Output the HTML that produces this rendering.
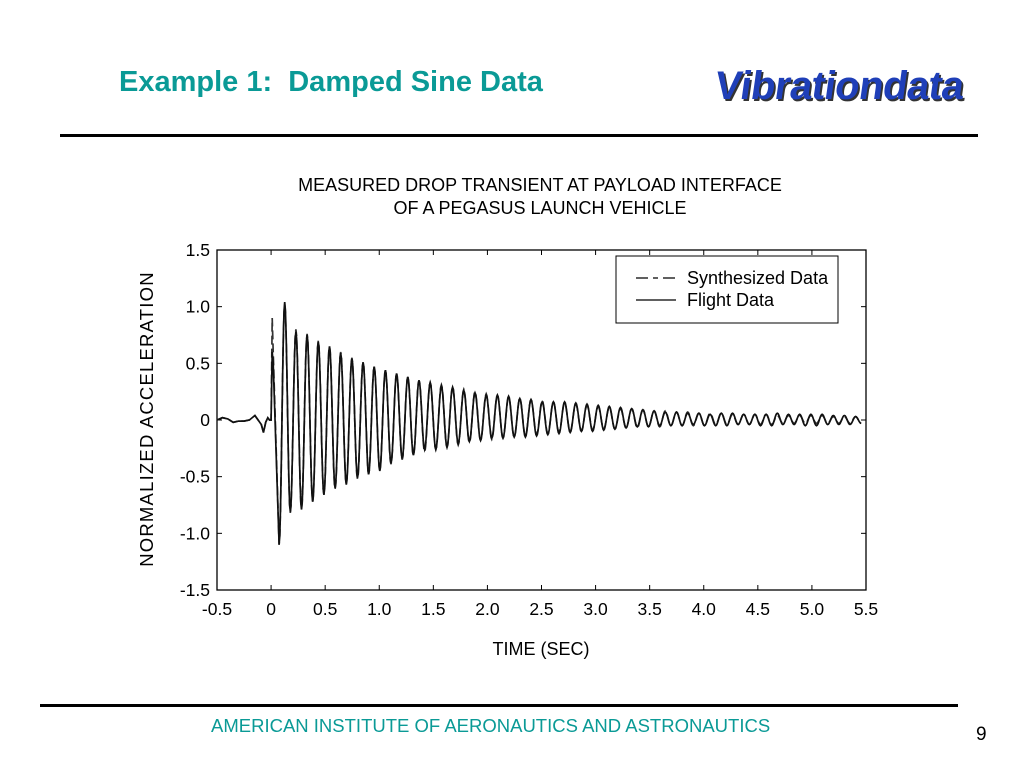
<!DOCTYPE html>
<html><head><meta charset="utf-8"><style>
body{margin:0;width:1024px;height:768px;background:#fff;position:relative;overflow:hidden;font-family:"Liberation Sans",sans-serif}
.a{position:absolute;white-space:nowrap}
</style></head><body>
<div class="a" style="left:119px;top:66px;font-size:29px;font-weight:bold;color:#0a9a96">Example 1:&nbsp; Damped Sine Data</div>
<div class="a" style="left:712px;top:64px;font-size:40px;font-weight:bold;color:#1f3fb8;text-shadow:2px 2px 0 #333;transform:skewX(-8deg);transform-origin:left bottom;letter-spacing:-0.5px">Vibrationdata</div>
<div class="a" style="left:60px;top:134px;width:918px;height:3px;background:#000"></div>
<div class="a" style="left:40px;top:704px;width:918px;height:3px;background:#000"></div>
<div class="a" style="left:211px;top:715px;font-size:18.5px;color:#0a9a96">AMERICAN INSTITUTE OF AERONAUTICS AND ASTRONAUTICS</div>
<div class="a" style="left:976px;top:724px;font-size:19px">9</div>
<svg id="c" class="a" style="left:0;top:0" width="1024" height="768"></svg>
<script>
const xTicks=[-0.5,0,0.5,1.0,1.5,2.0,2.5,3.0,3.5,4.0,4.5,5.0,5.5];
const xTickLabels=["-0.5","0","0.5","1.0","1.5","2.0","2.5","3.0","3.5","4.0","4.5","5.0","5.5"];
const yTicks=[-1.5,-1.0,-0.5,0,0.5,1.0,1.5];
const yTickLabels=["-1.5","-1.0","-0.5","0","0.5","1.0","1.5"];
const preTimes=[-0.5,-0.45,-0.4,-0.35,-0.3,-0.25,-0.2,-0.15,-0.12,-0.09,-0.07,-0.05,-0.03,-0.015,0,0.01,0.02];
const preFlight=[0.0,0.02,0.01,-0.02,-0.01,-0.01,0.0,0.04,0.0,-0.04,-0.11,-0.02,0.02,0.0,0.0,0.6,0.5];
const preSynth=[0.0,0.02,0.01,-0.02,-0.01,-0.01,0.0,0.04,0.0,-0.04,-0.11,-0.02,0.02,0.0,0.0,0.9,0.6];
const firstTrough=-1.10;
const firstTroughTime=0.074;
const period=0.1035;
const flightPeaks=[1.04,0.78,0.75,0.69,0.65,0.59,0.54,0.51,0.47,0.44,0.41,0.38,0.35,0.33,0.30,0.29,0.26,0.24,0.22,0.22,0.21,0.19,0.18,0.16,0.16,0.16,0.15,0.14,0.13,0.12,0.11,0.10,0.09,0.08,0.07,0.07,0.06,0.06,0.05,0.06,0.06,0.05,0.05,0.05,0.06,0.05,0.05,0.05,0.05,0.04,0.04,0.03];
const flightTroughs=[-0.81,-0.79,-0.72,-0.66,-0.60,-0.57,-0.51,-0.48,-0.45,-0.38,-0.34,-0.31,-0.26,-0.26,-0.24,-0.21,-0.19,-0.18,-0.16,-0.16,-0.15,-0.15,-0.14,-0.13,-0.12,-0.11,-0.10,-0.10,-0.09,-0.08,-0.07,-0.06,-0.06,-0.05,-0.05,-0.05,-0.04,-0.05,-0.05,-0.05,-0.04,-0.04,-0.05,-0.05,-0.04,-0.04,-0.05,-0.05,-0.04,-0.04,-0.04,-0.03];
const synthPeaks=[1.02,0.80,0.76,0.70,0.65,0.60,0.55,0.51,0.47,0.44,0.41,0.38,0.35,0.33,0.31,0.29,0.27,0.25,0.23,0.22,0.20,0.19,0.18,0.17,0.16,0.15,0.14,0.13,0.12,0.11,0.10,0.10,0.09,0.08,0.08,0.07,0.07,0.06,0.06,0.06,0.05,0.05,0.05,0.05,0.04,0.04,0.04,0.04,0.04,0.03,0.03,0.03];
const synthTroughs=[-0.82,-0.78,-0.72,-0.66,-0.61,-0.56,-0.52,-0.48,-0.44,-0.39,-0.35,-0.31,-0.28,-0.26,-0.24,-0.22,-0.20,-0.18,-0.17,-0.16,-0.15,-0.14,-0.13,-0.12,-0.11,-0.10,-0.10,-0.09,-0.08,-0.08,-0.07,-0.07,-0.06,-0.06,-0.05,-0.05,-0.05,-0.05,-0.04,-0.04,-0.04,-0.04,-0.04,-0.04,-0.03,-0.03,-0.03,-0.03,-0.03,-0.03,-0.03,-0.03];

const L=217,R=866,T=250,B=590;
const X=t=>L+(t+0.5)/6*(R-L);
const Y=v=>B-(v+1.5)/3*(B-T);
const svg=document.getElementById('c');
const NS='http://www.w3.org/2000/svg';
function mk(tag,at,txt){const e=document.createElementNS(NS,tag);for(const k in at)e.setAttribute(k,at[k]);if(txt!==undefined)e.textContent=txt;svg.appendChild(e);return e;}
let e;
e=mk('rect',{x:L,y:T,width:R-L,height:B-T,fill:'none',stroke:'#000','stroke-width':1.3});


xTicks.forEach((t,i)=>{
 e=mk('line',{x1:X(t),x2:X(t),y1:B,y2:B-5,stroke:'#000'});
 
 
 e=mk('line',{x1:X(t),x2:X(t),y1:T,y2:T+5,stroke:'#000'});
 
 
 e=mk('text',{x:X(t),y:B+25,'text-anchor':'middle','font-size':17.5},xTickLabels[i]);
 
 
});
yTicks.forEach((v,i)=>{
 e=mk('line',{x1:L,x2:L+5,y1:Y(v),y2:Y(v),stroke:'#000'});
 
 
 e=mk('line',{x1:R,x2:R-5,y1:Y(v),y2:Y(v),stroke:'#000'});
 
 
 e=mk('text',{x:L-7,y:Y(v)+6,'text-anchor':'end','font-size':17.5},yTickLabels[i]);
 
 
});
e=mk('text',{x:540,y:191,'text-anchor':'middle','font-size':18},'MEASURED DROP TRANSIENT AT PAYLOAD INTERFACE');


e=mk('text',{x:540,y:214,'text-anchor':'middle','font-size':18},'OF A PEGASUS LAUNCH VEHICLE');


e=mk('text',{x:541,y:655,'text-anchor':'middle','font-size':18},'TIME (SEC)');


e=mk('text',{x:153,y:419,'text-anchor':'middle','font-size':18.5,transform:'rotate(-90 153 419)','letter-spacing':'1.2'},'NORMALIZED ACCELERATION');



function buildPath(pre,peaks,troughs){
 const ext=[[firstTroughTime,firstTrough]];
 peaks.forEach((p,i)=>{ext.push([firstTroughTime+(i+0.5)*period,p]);if(troughs[i]!==undefined)ext.push([firstTroughTime+(i+1)*period,troughs[i]]);});
 let d='';
 pre.forEach((v,i)=>{d+=(i?'L':'M')+X(preTimes[i]).toFixed(1)+' '+Y(v).toFixed(1);});
 d+='L'+X(ext[0][0]).toFixed(1)+' '+Y(ext[0][1]).toFixed(1);
 for(let k=0;k<ext.length-1;k++){
  const [t0,v0]=ext[k],[t1,v1]=ext[k+1];
  for(let s=1;s<=8;s++){const f=s/8;const w=(1-Math.cos(Math.PI*f))/2;const t=t0+(t1-t0)*f;if(t>5.5)break;d+='L'+X(t).toFixed(1)+' '+Y(v0+(v1-v0)*w).toFixed(1);}
 }
 return d;
}
e=mk('path',{d:buildPath(preSynth,synthPeaks,synthTroughs),fill:'none',stroke:'#333','stroke-width':1.7,'stroke-dasharray':'9 4'});


e=mk('path',{d:buildPath(preFlight,flightPeaks,flightTroughs),fill:'none',stroke:'#111','stroke-width':1.7});



e=mk('rect',{x:616,y:256,width:222,height:67,fill:'#fff',stroke:'#000','stroke-width':1});


e=mk('line',{x1:636,x2:676,y1:278,y2:278,stroke:'#000','stroke-width':1.3,'stroke-dasharray':'12 5 5 5'});


e=mk('text',{x:687,y:284,'font-size':18},'Synthesized Data');


e=mk('line',{x1:636,x2:676,y1:300,y2:300,stroke:'#000','stroke-width':1.3});


e=mk('text',{x:687,y:306,'font-size':18},'Flight Data');


</script>
</body></html>
